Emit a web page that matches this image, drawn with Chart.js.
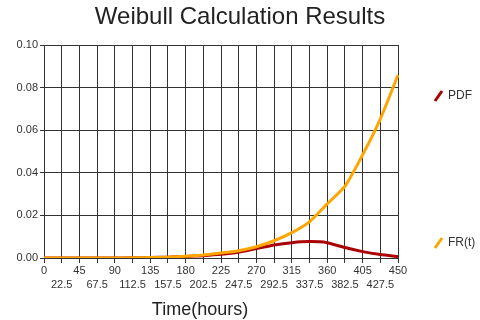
<!DOCTYPE html>
<html>
<head>
<meta charset="utf-8">
<script src="https://cdn.jsdelivr.net/npm/chart.js@4"></script>
<style>
html,body{margin:0;padding:0;background:#fff;}
#wrap{width:480px;height:320px;position:relative;}
</style>
</head>
<body>
<div id="wrap"><canvas id="c" width="480" height="320"></canvas></div>
<script>
const chartTitle = 'Weibull Calculation Results';
const xAxisTitle = 'Time(hours)';
const timeLabels = ['0','22.5','45','67.5','90','112.5','135','157.5','180','202.5','225','247.5','270','292.5','315','337.5','360','382.5','405','427.5','450'];
const pdfValues = [0,0,0,0,0,0.0001,0.0002,0.0004,0.0007,0.0011,0.0017,0.0027,0.0044,0.0061,0.0072,0.0077,0.0072,0.0049,0.0030,0.0016,0.0006];
const frValues  = [0,0,0,0,0,0.0001,0.0002,0.0004,0.0008,0.0014,0.0023,0.0034,0.0053,0.0081,0.0119,0.0170,0.0254,0.0336,0.0484,0.0652,0.0859];
const seriesNames = ['PDF','FR(t)'];
const seriesColors = ['#AA0000','#FFA500'];

const FONT = '"Liberation Sans", Arial, sans-serif';

const overlay = {
  id: 'overlay',
  afterDraw(chart) {
    const ctx = chart.ctx;
    const a = chart.chartArea;
    ctx.save();
    ctx.fillStyle = '#222';
    ctx.textAlign = 'center';
    ctx.textBaseline = 'middle';
    ctx.font = '24px ' + FONT;
    ctx.fillText(chartTitle, 240, 17);
    ctx.font = '18px ' + FONT;
    ctx.fillText(xAxisTitle, 200, 310);
    // legend
    const ys = [a.top + 51, a.bottom - 15];
    ctx.font = '12px ' + FONT;
    ctx.textAlign = 'left';
    for (let i = 0; i < 2; i++) {
      ctx.strokeStyle = seriesColors[i];
      ctx.lineWidth = 3;
      ctx.lineCap = 'butt';
      ctx.beginPath();
      ctx.moveTo(a.right + 37, ys[i] + 5);
      ctx.lineTo(a.right + 44, ys[i] - 5);
      ctx.stroke();
      ctx.fillStyle = '#333';
      ctx.fillText(seriesNames[i], a.right + 50, ys[i]);
    }
    ctx.restore();
  }
};

new Chart(document.getElementById('c'), {
  type: 'line',
  data: {
    labels: timeLabels,
    datasets: [
      { label: seriesNames[1], data: frValues, borderColor: seriesColors[1], borderWidth: 3, pointRadius: 0, tension: 0.15, fill: false, order: 0 },
      { label: seriesNames[0], data: pdfValues, borderColor: seriesColors[0], borderWidth: 3, pointRadius: 0, tension: 0.15, fill: false, order: 1 }
    ]
  },
  options: {
    responsive: false,
    animation: false,
    devicePixelRatio: 1,
    layout: { padding: { left: 0, right: 82, top: 45, bottom: 0 } },
    plugins: { legend: { display: false }, title: { display: false }, tooltip: { enabled: false } },
    scales: {
      x: {
        type: 'category',
        offset: false,
        afterFit: s => { s.height = 62; },
        grid: { color: '#333', lineWidth: 1, tickLength: 5, drawTicks: true },
        border: { color: '#333', width: 1 },
        ticks: {
          autoSkip: false, maxRotation: 0, minRotation: 0, padding: 0,
          color: '#333', font: { family: FONT, size: 11, lineHeight: 1.36 },
          callback: function (v, i) { const t = timeLabels[i]; return i % 2 === 0 ? t : ['', t]; }
        }
      },
      y: {
        min: 0, max: 0.1,
        afterFit: s => { s.width = 44; },
        grid: { color: '#333', lineWidth: 1, tickLength: 4, drawTicks: true },
        border: { color: '#333', width: 1 },
        ticks: {
          stepSize: 0.02, padding: 2, color: '#333',
          font: { family: FONT, size: 11 },
          callback: v => v.toFixed(2)
        }
      }
    }
  },
  plugins: [overlay]
});
</script>
</body>
</html>
